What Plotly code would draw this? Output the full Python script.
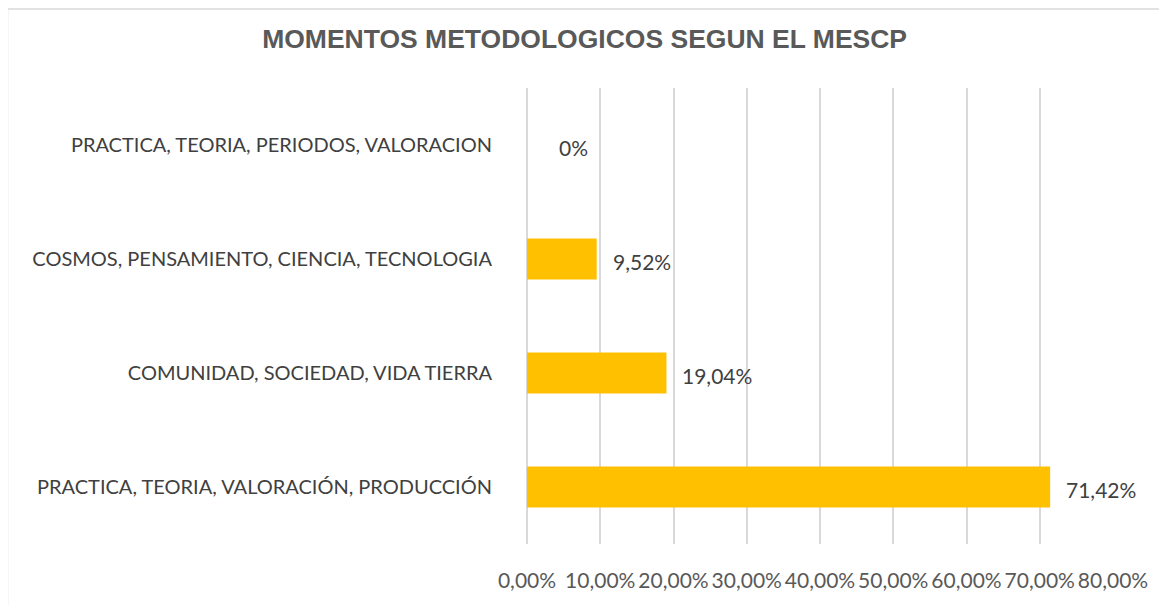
import plotly.graph_objects as go

categories = [
    "PRACTICA, TEORIA, PERIODOS, VALORACION",
    "COSMOS, PENSAMIENTO, CIENCIA, TECNOLOGIA",
    "COMUNIDAD, SOCIEDAD, VIDA TIERRA",
    "PRACTICA, TEORIA, VALORACIÓN, PRODUCCIÓN",
]
values = [0, 9.52, 19.04, 71.42]
value_labels = ["0%", "9,52%", "19,04%", "71,42%"]
tick_vals = [0, 10, 20, 30, 40, 50, 60, 70, 80]
tick_text = ["0,00%", "10,00%", "20,00%", "30,00%", "40,00%", "50,00%", "60,00%", "70,00%", "80,00%"]

FONT = "Lato, Open Sans, sans-serif"

fig = go.Figure()
fig.add_trace(go.Bar(
    x=values, y=categories, orientation="h",
    marker=dict(color="#FFC000", line=dict(width=0)),
    hoverinfo="skip",
))

for v, c, t in zip(values, categories, value_labels):
    fig.add_annotation(
        x=v, y=c, xref="x", yref="y", text=t, showarrow=False,
        xanchor="left", yanchor="middle", xshift=(30 if v == 0 else 14), yshift=-2,
        font=dict(family=FONT, size=21, color="#404040"),
    )

# outer chart border (left and top visible)
fig.add_shape(
    type="rect", xref="paper", yref="paper",
    x0=-0.8865, x1=1.2, y0=-0.3, y1=1.1735,
    line=dict(color="#D9D9D9", width=1.5), fillcolor="rgba(0,0,0,0)", layer="below",
)

fig.update_layout(
    width=1159, height=597,
    margin=dict(l=519, r=54, t=80, b=61, autoexpand=False),
    paper_bgcolor="white", plot_bgcolor="white",
    bargap=0.64,
    showlegend=False,
    title=dict(
        text="<b>MOMENTOS METODOLOGICOS SEGUN EL MESCP</b>",
        x=0.4975, xanchor="center", y=0.949, yanchor="middle", yref="container",
        font=dict(family="Liberation Sans, Arial, sans-serif", size=26.5, color="#595959"),
    ),
    xaxis=dict(
        range=[0, 80], tickvals=tick_vals, ticktext=tick_text, automargin=False,
        showgrid=True, gridcolor="#D9D9D9", gridwidth=1.5,
        zeroline=True, zerolinecolor="#D9D9D9", zerolinewidth=1.5,
        showline=False, ticks="", ticklabelstandoff=22,
        tickfont=dict(family=FONT, size=21, color="#595959"),
    ),
    yaxis=dict(
        categoryorder="array", categoryarray=categories, autorange="reversed",
        automargin=False,
        showgrid=False, showline=False, ticks="", ticklabelstandoff=34,
        tickfont=dict(family=FONT, size=20, color="#404040"),
    ),
)

fig.write_html("out.html")
